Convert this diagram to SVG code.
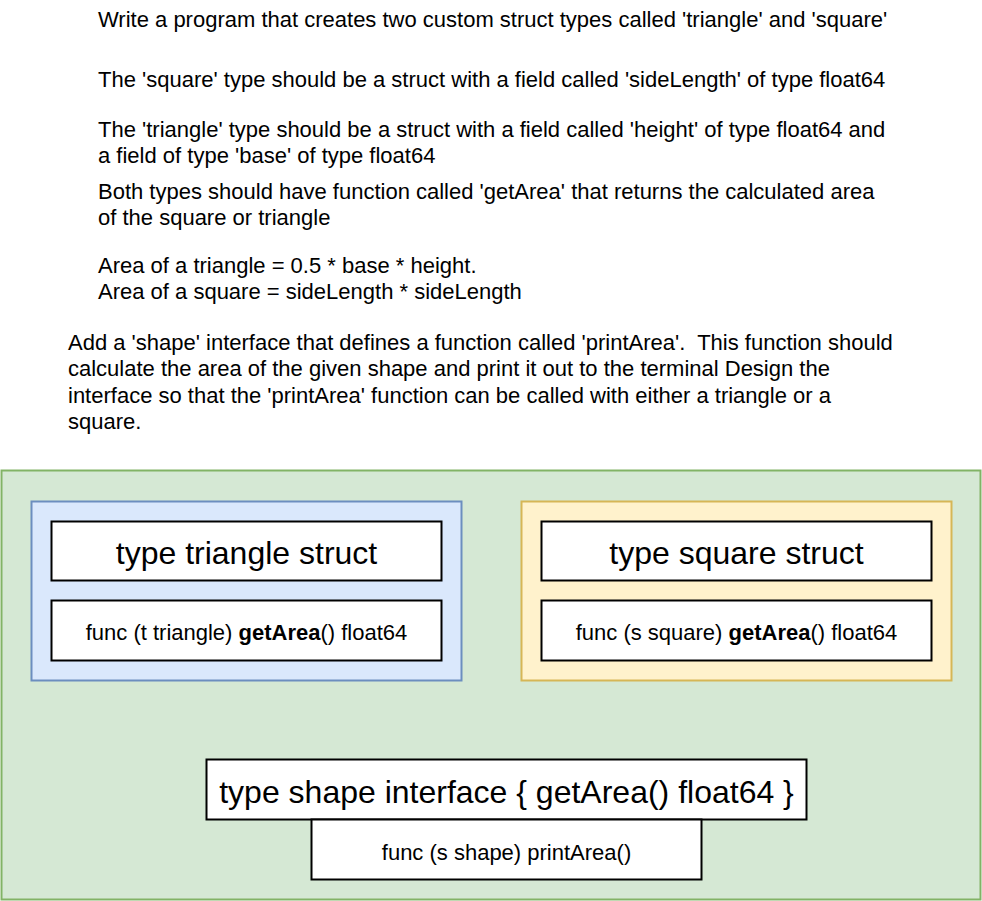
<svg xmlns="http://www.w3.org/2000/svg" width="982" height="901" viewBox="0 0 982 901">
<style>
text{font-family:"Liberation Sans",Arial,sans-serif;fill:#000;white-space:pre}
.p{font-size:22px}
.big{font-size:32px;text-anchor:middle}
.mid{font-size:22px;text-anchor:middle}
.box{fill:#fff;stroke:#000;stroke-width:2}
</style>
<rect width="982" height="901" fill="#fff"/>
<g id="description">
<text class="p" x="98" y="27">Write a program that creates two custom struct types called 'triangle' and 'square'</text>
<text class="p" x="98" y="87">The 'square' type should be a struct with a field called 'sideLength' of type float64</text>
<text class="p" x="98" y="137">The 'triangle' type should be a struct with a field called 'height' of type float64 and</text>
<text class="p" x="98" y="163">a field of type 'base' of type float64</text>
<text class="p" x="98" y="199">Both types should have function called 'getArea' that returns the calculated area</text>
<text class="p" x="98" y="225">of the square or triangle</text>
<text class="p" x="98" y="273">Area of a triangle = 0.5 * base * height.</text>
<text class="p" x="98" y="299">Area of a square = sideLength * sideLength</text>
<text class="p" x="68" y="350" xml:space="preserve">Add a 'shape' interface that defines a function called 'printArea'.  This function should</text>
<text class="p" x="68" y="376">calculate the area of the given shape and print it out to the terminal Design the</text>
<text class="p" x="68" y="403">interface so that the 'printArea' function can be called with either a triangle or a</text>
<text class="p" x="68" y="429">square.</text>
</g>
<g id="container">
<rect x="1.5" y="470.5" width="979" height="429" fill="#d5e8d4" stroke="#82b366" stroke-width="2"/>
</g>
<g id="triangle">
<rect x="31.5" y="501.5" width="430" height="179" fill="#dae8fc" stroke="#6c8ebf" stroke-width="2"/>
<rect class="box" x="51.5" y="521.5" width="390" height="59"/>
<text class="big" x="246.5" y="564">type triangle struct</text>
<rect class="box" x="51.5" y="600.5" width="390" height="60"/>
<text class="mid" x="246.5" y="640">func (t triangle) <tspan font-weight="bold">getArea</tspan>() float64</text>
</g>
<g id="square">
<rect x="521.5" y="501.5" width="430" height="179" fill="#fff2cc" stroke="#d6b656" stroke-width="2"/>
<rect class="box" x="541.5" y="521.5" width="390" height="59"/>
<text class="big" x="736.5" y="564">type square struct</text>
<rect class="box" x="541.5" y="600.5" width="390" height="60"/>
<text class="mid" x="736.5" y="640">func (s square) <tspan font-weight="bold">getArea</tspan>() float64</text>
</g>
<g id="shape">
<rect class="box" x="206.5" y="759.5" width="600" height="60"/>
<text class="big" x="506.5" y="803">type shape interface { getArea() float64 }</text>
</g>
<g id="printArea">
<rect class="box" x="311.5" y="819.5" width="390" height="60"/>
<text class="mid" x="506.5" y="860">func (s shape) printArea()</text>
</g>
<g id="connectors"/>
</svg>
